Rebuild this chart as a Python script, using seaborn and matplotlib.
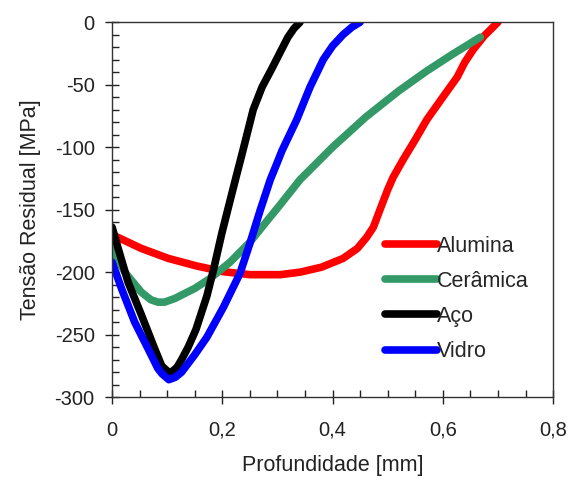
import matplotlib
matplotlib.use("Agg")
import matplotlib.pyplot as plt
import matplotlib.ticker as mticker
import pandas as pd
import seaborn as sns

# Residual stress profiles by shot material
alumina_x = [0, 0.053, 0.102, 0.153, 0.20, 0.25, 0.305, 0.341, 0.38, 0.419, 0.445, 0.462,
             0.474, 0.486, 0.50, 0.51, 0.528, 0.55, 0.571, 0.60, 0.626, 0.64, 0.655, 0.675, 0.70]
alumina_y = [-170, -181, -189, -195, -199.5, -202, -202, -200, -196, -189, -181, -172,
             -164, -150, -134, -124, -110, -94, -78, -60, -44, -32, -22, -11, 0]

ceramica_x = [0, 0.023, 0.053, 0.07, 0.083, 0.095, 0.114, 0.150, 0.178, 0.214, 0.25, 0.281,
              0.305, 0.341, 0.40, 0.46, 0.52, 0.571, 0.62, 0.668]
ceramica_y = [-181, -200, -216, -222, -224, -224, -221, -213, -205, -192, -176, -159,
              -146, -126, -100, -76, -55, -39, -25, -12]

aco_x = [0, 0.011, 0.029, 0.053, 0.077, 0.09, 0.105, 0.118, 0.126, 0.138, 0.152, 0.172,
         0.184, 0.199, 0.211, 0.226, 0.236, 0.256, 0.272, 0.29, 0.305, 0.319, 0.33, 0.341]
aco_y = [-164, -181, -208, -234, -261, -275, -281, -276, -270, -260, -246, -219,
         -198, -169, -148, -122, -105, -70, -52, -37, -24, -12, -5, 0]

vidro_x = [0, 0.017, 0.041, 0.065, 0.083, 0.09, 0.103, 0.115, 0.126, 0.150, 0.172, 0.202,
           0.232, 0.250, 0.269, 0.287, 0.299, 0.308, 0.335, 0.359, 0.383, 0.40, 0.419,
           0.435, 0.45]
vidro_y = [-192, -213, -240, -261, -277, -281, -286, -284, -280, -266, -252, -228,
           -201, -177, -150, -126, -113, -103, -78, -52, -30, -19, -10,
           -4, 0]

series = ["Alumina", "Cerâmica", "Aço", "Vidro"]
colors = ["#ff0000", "#339966", "#000000", "#0000ff"]

frames = []
for name, xs, ys in [("Alumina", alumina_x, alumina_y),
                     ("Cerâmica", ceramica_x, ceramica_y),
                     ("Aço", aco_x, aco_y),
                     ("Vidro", vidro_x, vidro_y)]:
    frames.append(pd.DataFrame({"x": xs, "y": ys, "Material": name}))
df = pd.concat(frames, ignore_index=True)

sns.set_style("ticks")
plt.rcParams["font.family"] = ["Liberation Sans", "DejaVu Sans"]
plt.rcParams["axes.unicode_minus"] = False

fig = plt.figure(figsize=(5.69, 4.82), dpi=100)
ax = fig.add_axes([0.197, 0.176, 0.775, 0.778])

sns.lineplot(data=df, x="x", y="y", hue="Material", hue_order=series,
             palette=dict(zip(series, colors)), sort=False, estimator=None,
             linewidth=5.5, ax=ax)
for line in ax.get_lines():
    line.set_solid_joinstyle("round")
    line.set_solid_capstyle("round")

ax.set_xlim(0, 0.8)
ax.set_ylim(-300, 0)
ax.xaxis.set_major_locator(mticker.MultipleLocator(0.2))
ax.xaxis.set_minor_locator(mticker.MultipleLocator(0.05))
ax.yaxis.set_major_locator(mticker.MultipleLocator(50))
ax.yaxis.set_minor_locator(mticker.MultipleLocator(10))
ax.xaxis.set_major_formatter(mticker.FuncFormatter(
    lambda v, p: "0" if abs(v) < 1e-9 else f"{v:.1f}".replace(".", ",")))
ax.yaxis.set_major_formatter(mticker.FuncFormatter(lambda v, p: f"{v:.0f}"))

ax.tick_params(which="major", direction="inout", length=10, width=1,
               labelsize=14.5, colors="#222222")
ax.tick_params(axis="x", which="major", pad=12)
ax.tick_params(axis="y", which="major", pad=7.5)
ax.tick_params(which="minor", direction="in", length=5, width=1, colors="#222222")

for sp in ax.spines.values():
    sp.set_visible(True)
    sp.set_linewidth(1)
    sp.set_color("#333333")

ax.set_xlabel("Profundidade [mm]", fontsize=15.5, color="#222222", labelpad=11)
ax.set_ylabel("Tensão Residual [MPa]", fontsize=15.5, color="#222222", labelpad=10)

leg = ax.legend(loc="center left", bbox_to_anchor=(0.575, 0.262), frameon=False,
                fontsize=15.5, handlelength=2.4, handletextpad=0.0,
                labelspacing=0.66, borderpad=0.4)
for line in leg.get_lines():
    line.set_linewidth(5.5)

fig.savefig("out.png", dpi=100)
